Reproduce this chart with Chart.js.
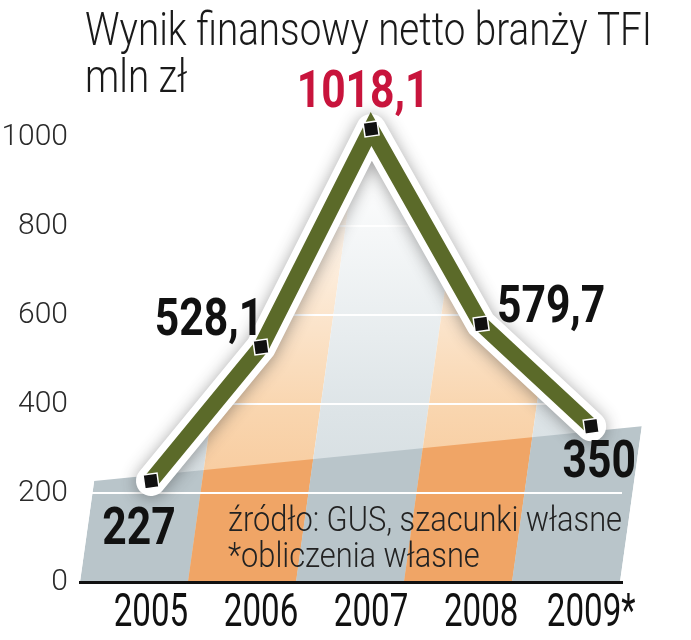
<!DOCTYPE html>
<html>
<head>
<meta charset="utf-8">
<script src="https://cdn.jsdelivr.net/npm/chart.js@4/dist/chart.umd.min.js"></script>
<style>
  html, body { margin: 0; padding: 0; background: #fff; }
</style>
</head>
<body>
<canvas id="myChart" width="691" height="640"></canvas>
<script>
  const lata = ['2005', '2006', '2007', '2008', '2009*'];
  const wynik = [227, 528.1, 1018.1, 579.7, 350];
  const etykiety = ['227', '528,1', '1018,1', '579,7', '350'];
  const yTicks = [0, 200, 400, 600, 800, 1000];
  const tytul = ['Wynik finansowy netto branży TFI', 'mln zł'];
  const zrodlo = ['źródło: GUS, szacunki własne', '*obliczenia własne'];

  // gdzie stoją etykiety wartości względem punktu (px)
  const przesuniecia = [[-12, 50], [-52, -25], [-8, -35], [70, -15], [8, 38]];

  const punkty = wynik.map((v, i) => ({ x: i, y: v }));

  function napis(ctx, txt, x, y, font, kolor, sx, align, baseline) {
    ctx.save();
    ctx.font = font;
    ctx.fillStyle = kolor;
    ctx.textAlign = align || 'center';
    ctx.textBaseline = baseline || 'middle';
    ctx.translate(x, y);
    ctx.scale(sx, 1);
    ctx.fillText(txt, 0, 0);
    ctx.restore();
  }

  // paski w tle, pochylone
  const tlo = {
    id: 'tlo',
    beforeDraw(chart) {
      const { ctx, chartArea: a, scales } = chart;
      const x = scales.x, y = scales.y;
      const k = 0.14;
      const y0 = y.getPixelForValue(0);
      const L = a.left, R = a.right - 2;
      const sw = (R - L) / lata.length;
      const gora = a.top - 60;
      const pts = wynik.map((v, i) => ({ x: x.getPixelForValue(i), y: y.getPixelForValue(v) }));

      function paski(kolory) {
        for (let j = 0; j < lata.length; j++) {
          ctx.fillStyle = kolory[j % 2];
          const xl = L + j * sw, xr = L + (j + 1) * sw, d = k * (y0 - gora);
          ctx.beginPath();
          ctx.moveTo(xl, y0);
          ctx.lineTo(xr, y0);
          ctx.lineTo(xr + d, gora);
          ctx.lineTo(xl + d, gora);
          ctx.closePath();
          ctx.fill();
        }
      }

      // pole pod linią, blednie ku górze
      ctx.save();
      ctx.beginPath();
      ctx.moveTo(pts[0].x, y0);
      pts.forEach(p => ctx.lineTo(p.x, p.y));
      ctx.lineTo(pts[pts.length - 1].x, y0);
      ctx.closePath();
      ctx.clip();
      const gSzary = ctx.createLinearGradient(0, y0, 0, y.getPixelForValue(950));
      gSzary.addColorStop(0, '#cdd6da');
      gSzary.addColorStop(0.4, '#dde4e7');
      gSzary.addColorStop(1, '#ffffff');
      const gPom = ctx.createLinearGradient(0, y0, 0, y.getPixelForValue(950));
      gPom.addColorStop(0, '#f6bf8a');
      gPom.addColorStop(0.4, '#f9d5ae');
      gPom.addColorStop(1, '#ffffff');
      paski([gSzary, gPom]);
      ctx.restore();

      // pas u dołu
      const yA = y.getPixelForValue(wynik[0]);
      const yB = y.getPixelForValue(wynik[wynik.length - 1]);
      ctx.save();
      ctx.beginPath();
      ctx.moveTo(L, y0);
      ctx.lineTo(L + k * (y0 - yA), yA);
      ctx.lineTo(R + k * (y0 - yB), yB);
      ctx.lineTo(R, y0);
      ctx.closePath();
      ctx.clip();
      paski(['#b9c5ca', '#f0a566']);
      ctx.restore();
    }
  };

  const cien = {
    id: 'cien',
    beforeDatasetDraw(chart, args) {
      if (args.index !== 1) return;
      const ctx = chart.ctx;
      ctx.save();
      ctx.shadowColor = 'rgba(50,50,50,0.45)';
      ctx.shadowBlur = 16;
      ctx.shadowOffsetY = 2;
    },
    afterDatasetDraw(chart, args) {
      if (args.index !== 1) return;
      chart.ctx.restore();
    }
  };

  const napisy = {
    id: 'napisy',
    afterDraw(chart) {
      const { ctx, scales } = chart;
      const x = scales.x, y = scales.y;

      ctx.save();
      ctx.font = '300 46px Roboto';
      const sxT = 567 / ctx.measureText(tytul[0]).width;
      ctx.restore();
      napis(ctx, tytul[0], 85, 45, '300 46px Roboto', '#1a1a1a', sxT, 'left', 'alphabetic');
      napis(ctx, tytul[1], 85, 92, '300 46px Roboto', '#1a1a1a', sxT, 'left', 'alphabetic');

      ctx.save();
      ctx.font = '300 35px Roboto';
      const sxZ = 394 / ctx.measureText(zrodlo[0]).width;
      ctx.restore();
      napis(ctx, zrodlo[0], 228, 522, '300 35px Roboto', '#222', sxZ, 'left');
      napis(ctx, zrodlo[1], 228, 558, '300 35px Roboto', '#222', sxZ, 'left');

      lata.forEach((t, i) => {
        napis(ctx, t, x.getPixelForValue(i), 614, '400 46px Roboto', '#111', 0.72, 'center');
      });

      etykiety.forEach((t, i) => {
        const px = x.getPixelForValue(i) + przesuniecia[i][0];
        const py = y.getPixelForValue(wynik[i]) + przesuniecia[i][1];
        const kolor = i === 2 ? '#c8143c' : '#111';
        napis(ctx, t, px, py, 'bold 52px Roboto', kolor, 0.82, 'center');
      });
    }
  };

  new Chart(document.getElementById('myChart'), {
    type: 'line',
    data: {
      datasets: [
        {
          data: punkty,
          borderColor: '#5b6a29',
          borderWidth: 16,
          borderJoinStyle: 'miter',
          tension: 0,
          pointStyle: 'rect',
          pointRadius: 10,
          pointRotation: -8,
          pointBackgroundColor: '#111',
          pointBorderColor: '#fff',
          pointBorderWidth: 1.5,
          clip: false,
          order: 1
        },
        {
          data: punkty,
          borderColor: '#fff',
          borderWidth: 30,
          borderJoinStyle: 'round',
          borderCapStyle: 'round',
          tension: 0,
          pointRadius: 0,
          clip: false,
          order: 2
        }
      ]
    },
    options: {
      responsive: false,
      animation: false,
      events: [],
      layout: { padding: { top: 137, bottom: 58, left: 0, right: 69 } },
      plugins: { legend: { display: false }, tooltip: { enabled: false } },
      scales: {
        x: {
          type: 'linear',
          min: -0.645,
          max: 4.28,
          grid: { display: false, drawTicks: false },
          ticks: { display: false },
          border: { display: true, color: '#111', width: 3 }
        },
        y: {
          min: 0,
          max: 1000,
          afterBuildTicks: s => { s.ticks = yTicks.map(v => ({ value: v })); },
          afterFit: s => { s.width = 80; },
          ticks: {
            color: '#2a2a2a',
            padding: 12,
            font: { family: 'Roboto', weight: '300', size: 30 },
            callback: v => String(v)
          },
          grid: { color: '#fff', lineWidth: 2, drawTicks: false },
          border: { display: false }
        }
      }
    },
    plugins: [tlo, cien, napisy]
  });
</script>
</body>
</html>
